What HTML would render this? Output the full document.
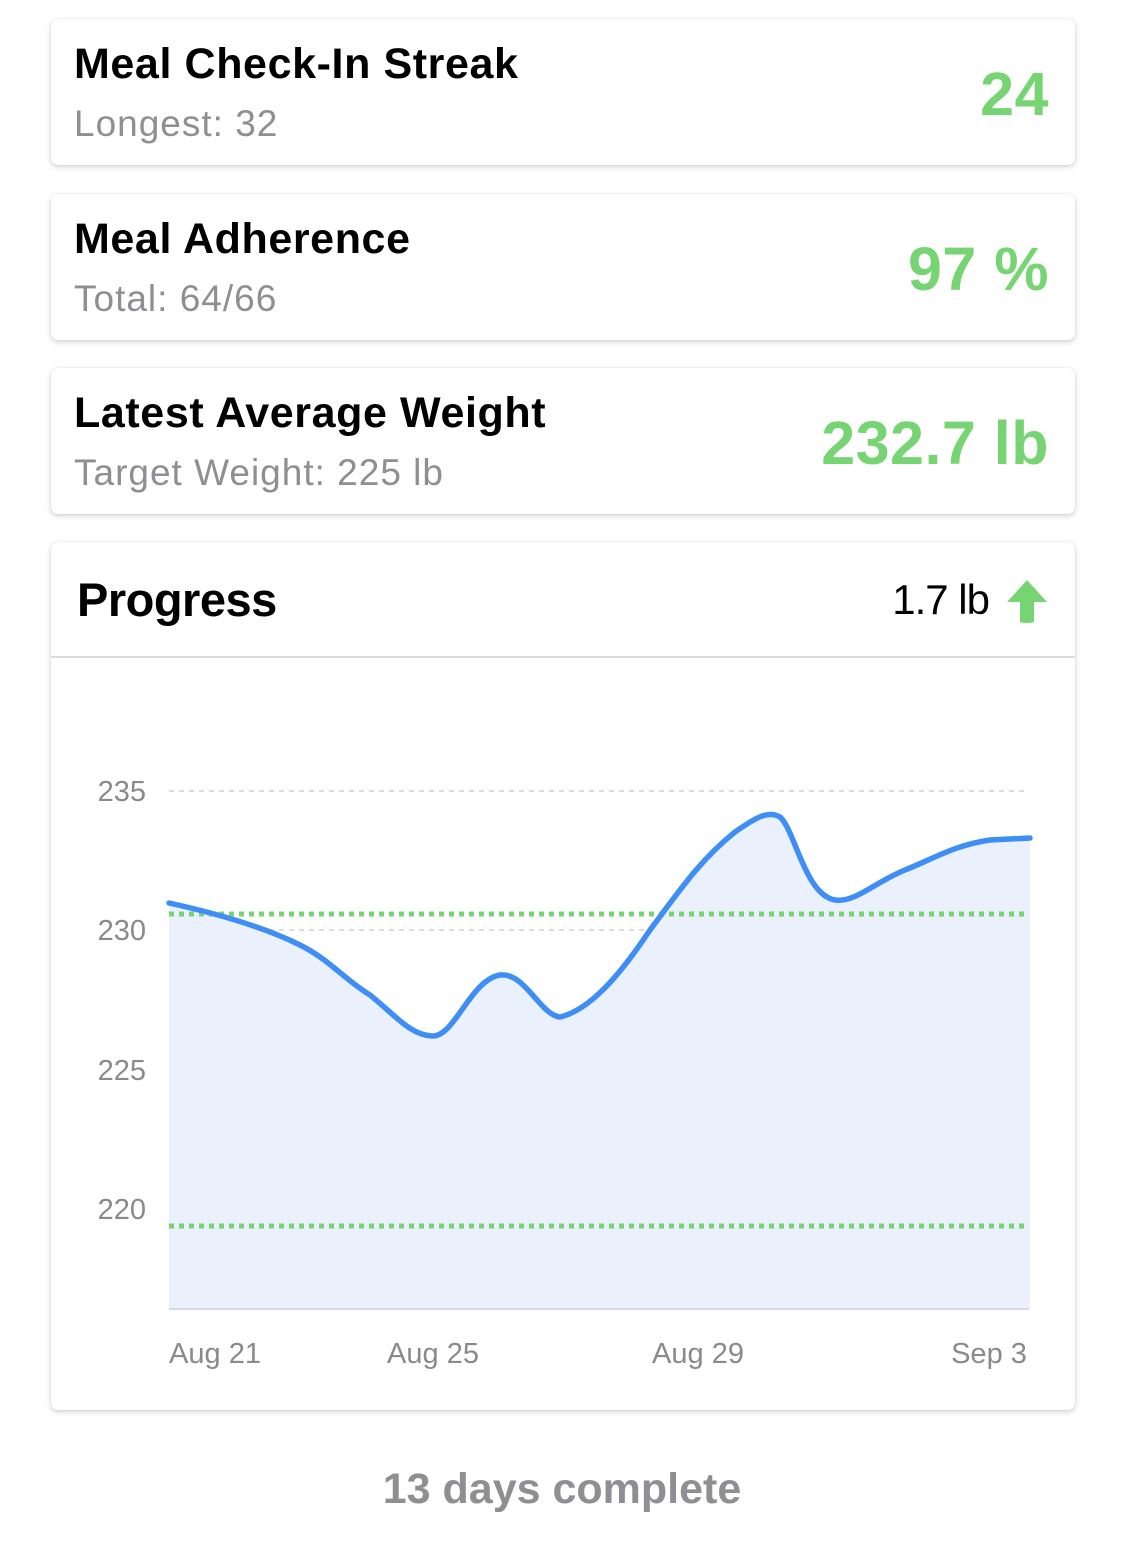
<!DOCTYPE html>
<html><head><meta charset="utf-8"><style>
body{margin:0;width:1125px;height:1551px;background:#fff;font-family:"Liberation Sans",sans-serif;position:relative;overflow:hidden}
.card{position:absolute;left:51px;width:1024px;background:#fff;border-radius:7px;box-shadow:0 2px 6px rgba(0,0,0,0.18),0 0 1px rgba(0,0,0,0.15)}
.t{position:absolute;left:23px;top:21px;font-size:43px;font-weight:bold;color:#000;letter-spacing:0.6px}
.s{position:absolute;left:23px;top:84px;font-size:37px;color:#8e8e93;letter-spacing:1px}
.v{position:absolute;right:26px;top:40px;font-size:61px;font-weight:bold;color:#76d572;letter-spacing:0.5px}
</style></head><body>
<div class="card" style="top:19px;height:146px"><div class="t">Meal Check-In Streak</div><div class="s">Longest: 32</div><div class="v">24</div></div>
<div class="card" style="top:194px;height:146px"><div class="t">Meal Adherence</div><div class="s">Total: 64/66</div><div class="v">97 %</div></div>
<div class="card" style="top:368px;height:146px"><div class="t">Latest Average Weight</div><div class="s">Target Weight: 225 lb</div><div class="v">232.7 lb</div></div>
<div class="card" style="top:542px;height:868px">
<div style="position:absolute;left:26px;top:30px;font-size:47px;font-weight:bold;letter-spacing:-0.5px">Progress</div>
<div style="position:absolute;right:86px;top:34px;font-size:42px;letter-spacing:-1px">1.7 lb</div>
<svg style="position:absolute;right:26px;top:36px" width="44" height="46" viewBox="0 0 44 46"><path d="M22 2 L42 24 L29 24 L29 44 Q22 46 15 44 L15 24 L2 24 Z" fill="#76d572"/></svg>
<div style="position:absolute;left:0;right:0;top:114px;height:2px;background:#dcdcdc"></div>
</div>
<svg style="position:absolute;left:0;top:0" width="1125" height="1551">
<g stroke="#dcdcdf" stroke-width="2" stroke-dasharray="5,5">
<line x1="169" y1="791" x2="1029" y2="791"/><line x1="169" y1="930" x2="1029" y2="930"/><line x1="169" y1="1070" x2="1029" y2="1070"/><line x1="169" y1="1209" x2="1029" y2="1209"/></g>
<path d="M169,903 C210,912 260,925 300,945 C330,960 345,980 370,995 C395,1015 410,1035 432,1036 C455,1037 470,980 500,975 C525,972 540,1015 560,1017 C590,1010 620,975 650,930 C680,890 700,860 735,832 C755,818 768,810 780,817 C795,830 805,895 835,900 C855,903 875,882 905,870 C935,858 955,845 990,840 L1030,838 L1030,1309 L169,1309 Z" fill="#eaf1fc"/>
<line x1="169" y1="1309" x2="1029" y2="1309" stroke="#d5dbe5" stroke-width="2"/>
<g stroke="#76d572" stroke-width="5" stroke-dasharray="5,5"><line x1="169" y1="914" x2="1029" y2="914"/><line x1="169" y1="1226" x2="1029" y2="1226"/></g>
<path d="M169,903 C210,912 260,925 300,945 C330,960 345,980 370,995 C395,1015 410,1035 432,1036 C455,1037 470,980 500,975 C525,972 540,1015 560,1017 C590,1010 620,975 650,930 C680,890 700,860 735,832 C755,818 768,810 780,817 C795,830 805,895 835,900 C855,903 875,882 905,870 C935,858 955,845 990,840 L1030,838" fill="none" stroke="#3f8ef5" stroke-width="5.5" stroke-linecap="round"/>
<g font-family="Liberation Sans,sans-serif" font-size="29" fill="#8a8a8e" text-anchor="end">
<text x="146" y="801">235</text><text x="146" y="940">230</text><text x="146" y="1080">225</text><text x="146" y="1219">220</text></g>
<g font-family="Liberation Sans,sans-serif" font-size="29" fill="#8a8a8e" text-anchor="middle">
<text x="215" y="1363">Aug 21</text><text x="433" y="1363">Aug 25</text><text x="698" y="1363">Aug 29</text><text x="989" y="1363">Sep 3</text></g>
<text x="562" y="1503" text-anchor="middle" font-family="Liberation Sans,sans-serif" font-size="43" font-weight="bold" fill="#8e8e93">13 days complete</text>
</svg>
</body></html>
